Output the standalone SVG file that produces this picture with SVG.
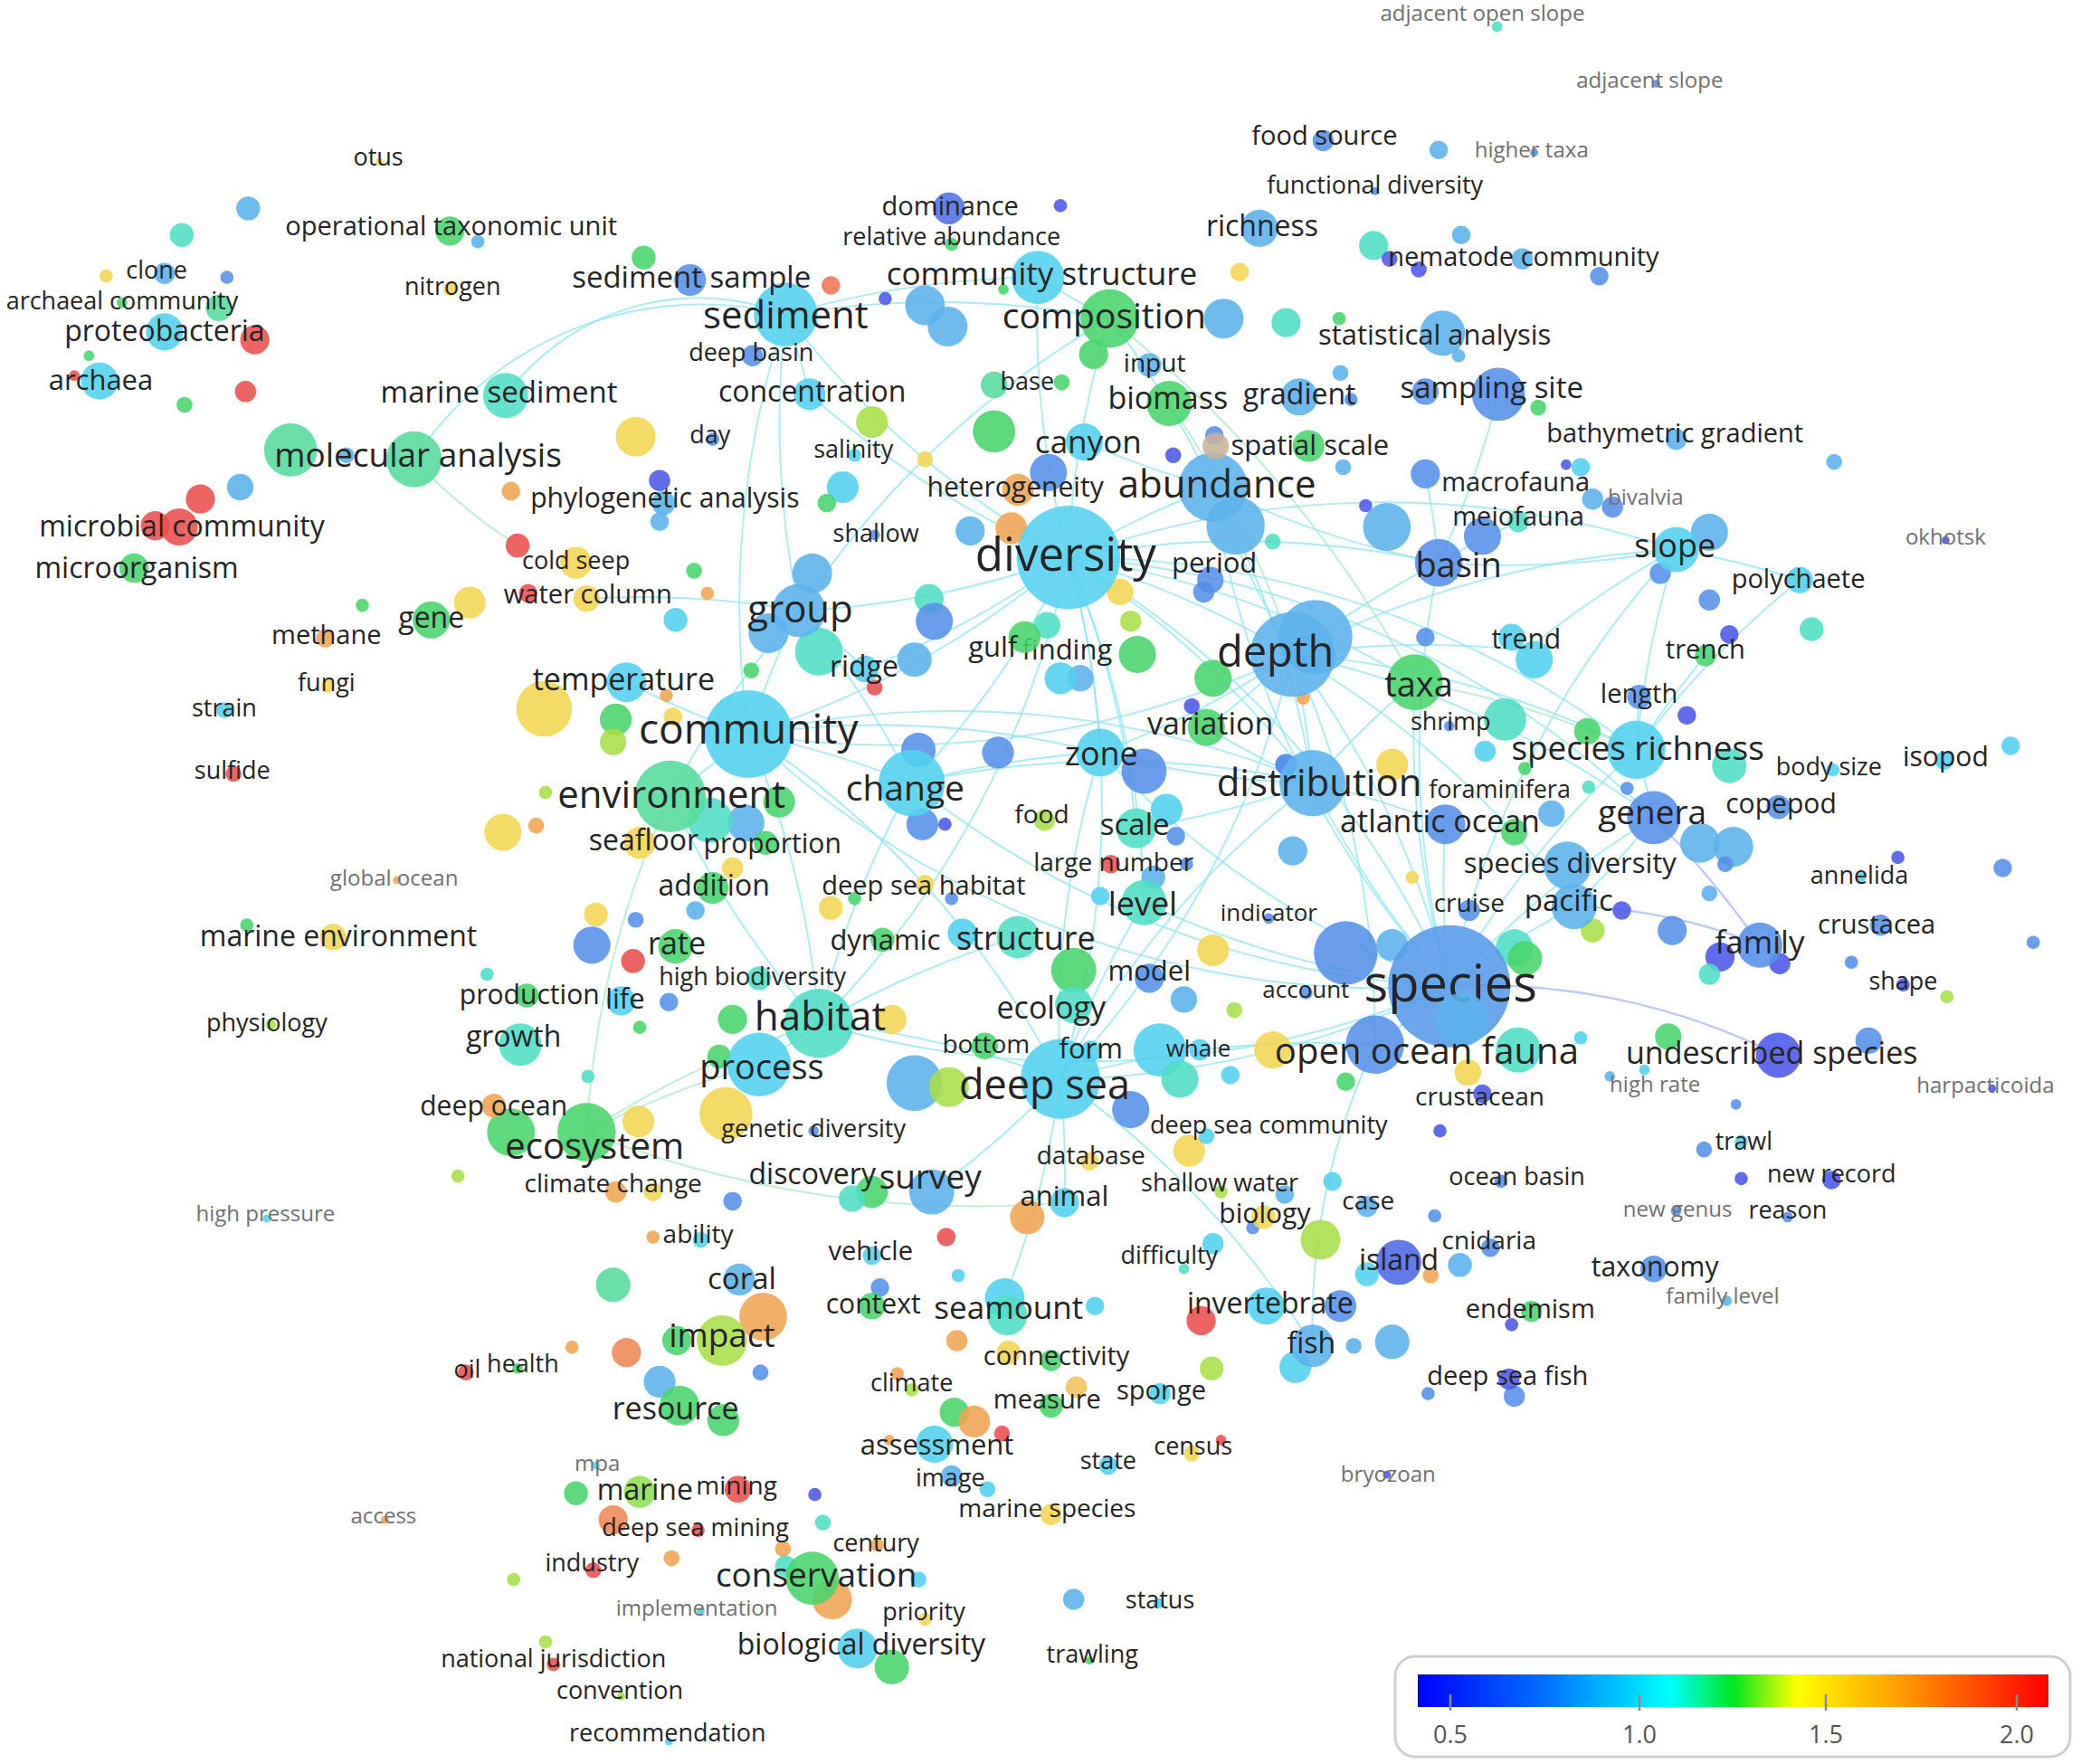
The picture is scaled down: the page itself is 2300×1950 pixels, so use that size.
<svg xmlns="http://www.w3.org/2000/svg" width="2300" height="1950" viewBox="0 0 2300 1950">
<style>
text{font-family:"Open Sans","Noto Sans","DejaVu Sans",sans-serif;fill:#242424;text-anchor:middle;dominant-baseline:middle}
circle{fill-opacity:.88}
.i{fill:#4b57e8}.b{fill:#5590e8}.l{fill:#5cb2ec}.c{fill:#52d2ef}.t{fill:#4fdec4}.m{fill:#55dc9c}.g{fill:#48d46c}.k{fill:#a8de48}.y{fill:#f2d652}.o{fill:#f0a452}.r{fill:#ea4e4e}
#edges path{fill:none;stroke:#8fe4f2;stroke-width:1.3;stroke-opacity:.75}
#edges path.eg{stroke:#a6eac2}
#edges path.ev{stroke:#a9b6f4;stroke-width:1.6}
.g24{font-size:16.4px;fill:#707070}
.s26{font-size:17.7px}.s27{font-size:18.4px}.s28{font-size:19.1px}.s29{font-size:19.8px}.s30{font-size:20.5px}.s31{font-size:21.1px}.s32{font-size:21.8px}.s33{font-size:22.5px}.s34{font-size:23.2px}.s35{font-size:23.9px}.s36{font-size:24.5px}.s37{font-size:25.2px}.s38{font-size:25.9px}.s39{font-size:26.6px}.s40{font-size:27.3px}.s42{font-size:28.6px}.s44{font-size:30px}.s45{font-size:30.7px}.s46{font-size:31.4px}.s47{font-size:32px}.s51{font-size:34.8px}.s56{font-size:38.2px}
.leg{font-size:27px;fill:#555}
</style>
<defs>
<linearGradient id="lg" x1="0" y1="0" x2="1" y2="0">
<stop offset="0" stop-color="#0000ff"/><stop offset="0.2" stop-color="#0070ff"/><stop offset="0.4" stop-color="#00ffff"/><stop offset="0.5" stop-color="#00e620"/><stop offset="0.6" stop-color="#ffff00"/><stop offset="0.75" stop-color="#ffa500"/><stop offset="0.95" stop-color="#ff2000"/><stop offset="1" stop-color="#ff0000"/>
</linearGradient>
</defs>
<rect width="2300" height="1950" fill="#ffffff"/>
<g transform="scale(1.46684 1.46727)">
<g id="edges">
<path d="M805 420A700 700 0 0 1 974 493"/>
<path d="M805 420A700 700 0 0 1 1092 743"/>
<path d="M805 420A700 700 0 0 1 989 590"/>
<path d="M805 420A700 700 0 0 1 564 553"/>
<path d="M805 420A700 700 0 0 1 602 460"/>
<path d="M805 420A700 700 0 0 1 914 367"/>
<path d="M805 420A700 700 0 0 1 1084 424"/>
<path d="M805 420A700 700 0 0 1 1233 565"/>
<path d="M805 420A700 700 0 0 1 687 590"/>
<path d="M805 420A700 700 0 0 1 829 567"/>
<path d="M805 420A700 700 0 0 1 617 771"/>
<path d="M805 420A700 700 0 0 1 799 813"/>
<path d="M805 420A700 700 0 0 1 1066 514"/>
<path d="M805 420A700 700 0 0 1 592 237"/>
<path d="M805 420A700 700 0 0 1 782 209"/>
<path d="M805 420A700 700 0 0 1 836 240"/>
<path d="M805 420A700 700 0 0 1 610 297"/>
<path d="M805 420A700 700 0 0 1 652 504"/>
<path d="M805 420A700 700 0 0 1 1263 414"/>
<path d="M805 420A700 700 0 0 1 1246 616"/>
<path d="M805 420A700 700 0 0 1 862 680"/>
<path d="M805 420A700 700 0 0 1 856 624"/>
<path d="M974 493A700 700 0 0 1 1092 743"/>
<path d="M974 493A700 700 0 0 1 989 590"/>
<path d="M974 493A700 700 0 0 1 1084 424"/>
<path d="M974 493A700 700 0 0 1 1263 414"/>
<path d="M974 493A700 700 0 0 1 1233 565"/>
<path d="M974 493A700 700 0 0 1 1246 616"/>
<path d="M974 493A700 700 0 0 1 829 567"/>
<path d="M974 493A700 700 0 0 1 564 553"/>
<path d="M974 493A700 700 0 0 1 799 813"/>
<path d="M974 493A700 700 0 0 1 1036 787"/>
<path d="M974 493A700 700 0 0 1 1150 490"/>
<path d="M974 493A700 700 0 0 1 914 367"/>
<path d="M974 493A700 700 0 0 1 909 548"/>
<path d="M974 493A700 700 0 0 1 1186 683"/>
<path d="M1092 743A700 700 0 0 1 989 590"/>
<path d="M1092 743A700 700 0 0 1 1246 616"/>
<path d="M1092 743A700 700 0 0 1 1233 565"/>
<path d="M1092 743A700 700 0 0 1 1186 683"/>
<path d="M1092 743A700 700 0 0 1 1036 787"/>
<path d="M1092 743A700 700 0 0 1 799 813"/>
<path d="M1092 743A700 700 0 0 1 1089 621"/>
<path d="M1092 743A700 700 0 0 1 1066 514"/>
<path d="M1092 743A700 700 0 0 1 1263 414"/>
<path d="M1092 743A700 700 0 0 1 1084 424"/>
<path d="M1092 743A700 700 0 0 1 617 771"/>
<path d="M1092 743A700 700 0 0 1 564 553"/>
<path d="M1092 743A700 700 0 0 1 829 567"/>
<path d="M1092 743A700 700 0 0 1 862 680"/>
<path d="M1092 743A700 700 0 0 1 687 590"/>
<path d="M1092 743A700 700 0 0 1 914 367"/>
<path d="M564 553A700 700 0 0 1 602 460"/>
<path d="M564 553A700 700 0 0 1 505 600"/>
<path d="M564 553A700 700 0 0 1 687 590"/>
<path d="M564 553A700 700 0 0 1 617 771"/>
<path d="M564 553A700 700 0 0 1 799 813"/>
<path d="M564 553A700 700 0 0 1 989 590"/>
<path d="M564 553A700 700 0 0 1 829 567"/>
<path d="M564 553A700 700 0 0 1 592 237"/>
<path d="M564 553A700 700 0 0 1 472 514"/>
<path d="M602 460A700 700 0 0 1 592 237"/>
<path d="M602 460A700 700 0 0 1 652 504"/>
<path d="M602 460A700 700 0 0 1 687 590"/>
<path d="M602 460A700 700 0 0 1 836 240"/>
<path d="M617 771A700 700 0 0 1 799 813"/>
<path d="M617 771A700 700 0 0 1 572 802"/>
<path d="M617 771A700 700 0 0 1 505 600"/>
<path d="M617 771A700 700 0 0 1 687 590"/>
<path d="M617 771A700 700 0 0 1 767 706"/>
<path d="M799 813A700 700 0 0 1 989 590"/>
<path d="M799 813A700 700 0 0 1 1036 787"/>
<path d="M799 813A700 700 0 0 1 702 898"/>
<path d="M799 813A700 700 0 0 1 757 978"/>
<path d="M799 813A700 700 0 0 1 862 680"/>
<path d="M799 813A700 700 0 0 1 829 567"/>
<path d="M799 813A700 700 0 0 1 989 1014"/>
<path d="M799 813A700 700 0 0 1 802 906"/>
<path d="M1233 565A700 700 0 0 1 1263 414"/>
<path d="M1233 565A700 700 0 0 1 1285 494"/>
<path d="M1233 565A700 700 0 0 1 1246 616"/>
<path d="M1233 565A700 700 0 0 1 1356 437"/>
<path d="M1233 565A700 700 0 0 1 1235 525"/>
<path d="M1263 414A700 700 0 0 1 1084 424"/>
<path d="M1263 414A700 700 0 0 1 1356 437"/>
<path d="M1150 490A700 700 0 0 1 1263 414"/>
<path d="M1084 424A700 700 0 0 1 914 367"/>
<path d="M1084 424A700 700 0 0 1 1144 393"/>
<path d="M1074 357A700 700 0 0 1 1084 424"/>
<path d="M1129 297A700 700 0 0 1 1084 424"/>
<path d="M914 367A700 700 0 0 1 989 590"/>
<path d="M914 367A700 700 0 0 1 817 333"/>
<path d="M836 240A700 700 0 0 1 914 367"/>
<path d="M836 240A700 700 0 0 1 782 209"/>
<path d="M592 237A700 700 0 0 1 782 209"/>
<path d="M592 237A700 700 0 0 1 836 240"/>
<path d="M592 237A700 700 0 0 1 610 297"/>
<path d="M381 298A180 180 0 0 1 592 237"/>
<path d="M312 346A260 260 0 0 1 592 237"/>
<path d="M989 590A700 700 0 0 1 829 567"/>
<path d="M989 590A700 700 0 0 1 1089 621"/>
<path d="M989 590A700 700 0 0 1 1066 514"/>
<path d="M989 590A700 700 0 0 1 909 548"/>
<path d="M989 590A700 700 0 0 1 856 624"/>
<path d="M687 590A700 700 0 0 1 829 567"/>
<path d="M687 590A700 700 0 0 1 989 590"/>
<path d="M1246 616A700 700 0 0 1 1186 683"/>
<path d="M505 600A700 700 0 0 1 602 460"/>
<path d="M442 451A700 700 0 0 1 602 460"/>
<path d="M1036 787A500 500 0 0 0 989 1014"/>
<path class="ev" d="M1092 743A500 500 0 0 1 1340 795"/>
<path class="ev" d="M1186 683A400 400 0 0 1 1326 712"/>
<path class="ev" d="M1246 616A700 700 0 0 1 1326 712"/>
<path class="eg" d="M836 240A900 900 0 0 1 1066 514"/>
<path class="eg" d="M881 304A700 700 0 0 1 974 493"/>
<path class="eg" d="M312 346A400 400 0 0 0 390 411"/>
<path class="eg" d="M505 600A700 700 0 0 0 442 853"/>
<path class="eg" d="M442 853A800 800 0 0 0 802 906"/>
<path class="eg" d="M442 853A700 700 0 0 1 617 771"/>
<path class="eg" d="M442 853A700 700 0 0 1 572 802"/>
<path class="eg" d="M1066 514A700 700 0 0 1 1233 565"/>
</g>
<g id="unlabeled-nodes">
<circle cx="187" cy="157" r="9" class="l"/><circle cx="137" cy="177" r="9" class="t"/><circle cx="80" cy="208" r="5" class="y"/><circle cx="171" cy="209" r="5" class="b"/><circle cx="67" cy="268" r="4" class="g"/><circle cx="56" cy="283" r="4" class="r"/><circle cx="185" cy="295" r="8" class="r"/><circle cx="139" cy="305" r="6" class="g"/><circle cx="261" cy="343" r="6" class="l"/><circle cx="385" cy="370" r="7" class="o"/><circle cx="181" cy="367" r="10" class="l"/><circle cx="390" cy="411" r="9" class="r"/><circle cx="485" cy="194" r="9" class="g"/><circle cx="626" cy="215" r="7" class="r" style="fill:#ee7455"/><circle cx="667" cy="225" r="5" class="i"/><circle cx="697" cy="230" r="15" class="l"/><circle cx="714" cy="246" r="15" class="l"/><circle cx="756" cy="218" r="4" class="g"/><circle cx="479" cy="329" r="15" class="y"/><circle cx="657" cy="318" r="12" class="k"/><circle cx="697" cy="346" r="6" class="y"/><circle cx="749" cy="325" r="16" class="g"/><circle cx="635" cy="367" r="12" class="c"/><circle cx="623" cy="379" r="7" class="g"/><circle cx="731" cy="400" r="11" class="l"/><circle cx="762" cy="398" r="12" class="o"/><circle cx="523" cy="430" r="6" class="g"/><circle cx="612" cy="432" r="15" class="l"/>
<circle cx="799" cy="155" r="5" class="i"/><circle cx="934" cy="205" r="7" class="y"/><circle cx="1035" cy="185" r="11" class="t"/><circle cx="1101" cy="177" r="7" class="l"/><circle cx="1084" cy="113" r="7" class="l"/><circle cx="922" cy="240" r="15" class="l"/><circle cx="969" cy="243" r="11" class="t"/><circle cx="1009" cy="240" r="5" class="g"/><circle cx="1099" cy="268" r="5" class="l"/><circle cx="800" cy="288" r="6" class="g"/><circle cx="1010" cy="281" r="6" class="l"/><circle cx="1018" cy="301" r="5" class="b"/><circle cx="1159" cy="307" r="6" class="g"/><circle cx="884" cy="343" r="6" class="i"/><circle cx="915" cy="328" r="7" class="b"/><circle cx="1012" cy="352" r="6" class="l"/><circle cx="959" cy="408" r="6" class="t"/><circle cx="1029" cy="381" r="5" class="i"/><circle cx="1045" cy="397" r="18" class="l"/><circle cx="1180" cy="350" r="4" class="i"/><circle cx="1382" cy="348" r="6" class="l"/><circle cx="1251" cy="432" r="8" class="b"/><circle cx="1288" cy="452" r="8" class="b"/><circle cx="1365" cy="474" r="9" class="t"/><circle cx="1303" cy="478" r="7" class="i"/><circle cx="1271" cy="539" r="7" class="i"/><circle cx="1196" cy="551" r="10" class="g"/><circle cx="1303" cy="577" r="13" class="t"/><circle cx="1197" cy="593" r="5" class="t"/><circle cx="1226" cy="594" r="5" class="b"/><circle cx="1515" cy="562" r="7" class="c"/><circle cx="1281" cy="635" r="15" class="l"/><circle cx="1306" cy="638" r="15" class="l"/><circle cx="1300" cy="651" r="6" class="b"/><circle cx="1430" cy="646" r="5" class="i"/><circle cx="1509" cy="654" r="7" class="b"/><circle cx="1288" cy="673" r="6" class="l"/><circle cx="1260" cy="701" r="11" class="b"/><circle cx="1200" cy="701" r="9" class="k"/><circle cx="1222" cy="686" r="7" class="i"/><circle cx="1296" cy="721" r="11" class="i"/><circle cx="1288" cy="734" r="8" class="t"/><circle cx="1341" cy="726" r="8" class="i"/><circle cx="1395" cy="725" r="5" class="b"/><circle cx="1532" cy="710" r="5" class="b"/><circle cx="1467" cy="751" r="5" class="k"/><circle cx="1408" cy="784" r="10" class="b"/><circle cx="1257" cy="781" r="10" class="g"/><circle cx="1191" cy="782" r="5" class="c"/><circle cx="1213" cy="811" r="4" class="l"/><circle cx="1308" cy="832" r="4" class="b"/><circle cx="1284" cy="866" r="6" class="b"/><circle cx="1312" cy="888" r="5" class="i"/>
<circle cx="273" cy="456" r="5" class="g"/><circle cx="354" cy="454" r="12" class="y"/><circle cx="410" cy="534" r="21" class="y"/><circle cx="379" cy="627" r="14" class="y"/><circle cx="186" cy="697" r="5" class="g"/><circle cx="367" cy="734" r="5" class="t"/><circle cx="385" cy="853" r="18" class="g"/><circle cx="345" cy="886" r="5" class="k"/><circle cx="509" cy="467" r="9" class="c"/><circle cx="533" cy="447" r="5" class="o"/><circle cx="398" cy="447" r="7" class="r"/><circle cx="700" cy="451" r="11" class="t"/><circle cx="704" cy="468" r="14" class="b"/><circle cx="689" cy="497" r="13" class="l"/><circle cx="566" cy="505" r="6" class="g"/><circle cx="502" cy="524" r="5" class="o"/><circle cx="464" cy="542" r="12" class="g"/><circle cx="462" cy="559" r="10" class="k"/><circle cx="507" cy="540" r="7" class="y"/><circle cx="659" cy="518" r="6" class="r"/><circle cx="692" cy="565" r="13" class="b"/><circle cx="695" cy="621" r="12" class="b"/><circle cx="712" cy="621" r="5" class="i"/><circle cx="752" cy="567" r="12" class="b"/><circle cx="587" cy="604" r="12" class="g"/><circle cx="562" cy="620" r="14" class="l"/><circle cx="535" cy="618" r="17" class="t"/><circle cx="411" cy="597" r="5" class="k"/><circle cx="404" cy="622" r="6" class="o"/><circle cx="552" cy="654" r="8" class="y"/><circle cx="524" cy="686" r="7" class="l"/><circle cx="449" cy="689" r="9" class="y"/><circle cx="479" cy="693" r="6" class="b"/><circle cx="446" cy="712" r="14" class="b"/><circle cx="477" cy="724" r="9" class="r"/><circle cx="626" cy="684" r="9" class="y"/><circle cx="644" cy="677" r="5" class="g"/><circle cx="717" cy="677" r="5" class="b"/><circle cx="725" cy="703" r="11" class="c"/><circle cx="504" cy="755" r="7" class="b"/><circle cx="482" cy="774" r="5" class="g"/><circle cx="552" cy="768" r="11" class="g"/><circle cx="672" cy="768" r="11" class="y"/><circle cx="542" cy="796" r="9" class="g"/><circle cx="443" cy="811" r="5" class="t"/><circle cx="547" cy="839" r="20" class="y"/><circle cx="689" cy="816" r="21" class="l"/><circle cx="715" cy="819" r="15" class="k"/><circle cx="481" cy="845" r="12" class="y"/>
<circle cx="844" cy="446" r="10" class="y"/><circle cx="907" cy="446" r="8" class="b"/><circle cx="852" cy="468" r="8" class="k"/><circle cx="857" cy="493" r="14" class="g"/><circle cx="789" cy="471" r="10" class="t"/><circle cx="814" cy="511" r="10" class="l"/><circle cx="914" cy="511" r="14" class="g"/><circle cx="982" cy="526" r="5" class="o"/><circle cx="898" cy="532" r="6" class="i"/><circle cx="1074" cy="480" r="7" class="b"/><circle cx="1134" cy="542" r="16" class="t"/><circle cx="1119" cy="566" r="8" class="c"/><circle cx="969" cy="576" r="8" class="b"/><circle cx="1049" cy="576" r="12" class="y"/><circle cx="879" cy="610" r="12" class="c"/><circle cx="886" cy="630" r="7" class="b"/><circle cx="1141" cy="627" r="10" class="g"/><circle cx="1169" cy="613" r="10" class="l"/><circle cx="894" cy="651" r="5" class="b"/><circle cx="974" cy="641" r="11" class="l"/><circle cx="829" cy="675" r="7" class="c"/><circle cx="869" cy="661" r="9" class="l"/><circle cx="1064" cy="661" r="5" class="y"/><circle cx="914" cy="716" r="12" class="y"/><circle cx="1014" cy="718" r="24" class="b"/><circle cx="1049" cy="712" r="12" class="l"/><circle cx="1141" cy="714" r="14" class="t"/><circle cx="1149" cy="722" r="13" class="g"/><circle cx="809" cy="731" r="17" class="g"/><circle cx="892" cy="753" r="10" class="l"/><circle cx="930" cy="761" r="6" class="k"/><circle cx="874" cy="791" r="20" class="c"/><circle cx="889" cy="813" r="14" class="t"/><circle cx="959" cy="791" r="14" class="y"/><circle cx="1106" cy="808" r="10" class="y"/><circle cx="927" cy="810" r="7" class="c"/><circle cx="1014" cy="815" r="7" class="g"/><circle cx="1085" cy="852" r="5" class="i"/><circle cx="852" cy="836" r="14" class="b"/><circle cx="896" cy="867" r="12" class="y"/><circle cx="790" cy="356" r="14" class="b"/>
<circle cx="552" cy="905" r="7" class="b"/><circle cx="492" cy="898" r="7" class="y"/><circle cx="657" cy="898" r="12" class="g"/><circle cx="492" cy="932" r="5" class="o"/><circle cx="713" cy="932" r="7" class="r"/><circle cx="774" cy="917" r="13" class="o"/><circle cx="462" cy="968" r="13" class="m"/><circle cx="722" cy="961" r="5" class="c"/><circle cx="663" cy="970" r="7" class="b"/><circle cx="575" cy="992" r="18" class="o"/><circle cx="510" cy="1010" r="11" class="g"/><circle cx="431" cy="1015" r="5" class="o"/><circle cx="472" cy="1019" r="11" class="o" style="fill:#ee8855"/><circle cx="573" cy="1034" r="6" class="b"/><circle cx="497" cy="1041" r="12" class="l"/><circle cx="545" cy="1070" r="12" class="g"/><circle cx="721" cy="1010" r="8" class="o"/><circle cx="760" cy="1019" r="9" class="y"/><circle cx="676" cy="1035" r="5" class="o"/><circle cx="719" cy="1064" r="11" class="g"/><circle cx="734" cy="1071" r="12" class="o"/><circle cx="755" cy="1080" r="6" class="r"/><circle cx="670" cy="1085" r="4" class="o"/><circle cx="744" cy="1122" r="6" class="c"/><circle cx="434" cy="1125" r="9" class="g"/><circle cx="614" cy="1126" r="5" class="i"/><circle cx="462" cy="1145" r="11" class="o" style="fill:#ee8855"/><circle cx="620" cy="1147" r="6" class="t"/><circle cx="590" cy="1167" r="6" class="o"/><circle cx="506" cy="1174" r="6" class="o"/><circle cx="627" cy="1205" r="15" class="o"/><circle cx="692" cy="1190" r="6" class="c"/><circle cx="592" cy="1180" r="8" class="t"/><circle cx="672" cy="1256" r="13" class="g"/><circle cx="411" cy="1237" r="5" class="k"/><circle cx="387" cy="1190" r="5" class="k"/>
<circle cx="1004" cy="890" r="7" class="c"/><circle cx="968" cy="900" r="7" class="l"/><circle cx="944" cy="925" r="5" class="b"/><circle cx="995" cy="934" r="15" class="k"/><circle cx="914" cy="937" r="8" class="c"/><circle cx="1081" cy="916" r="5" class="b"/><circle cx="1030" cy="960" r="9" class="c"/><circle cx="1078" cy="961" r="6" class="o"/><circle cx="1100" cy="953" r="9" class="l"/><circle cx="825" cy="984" r="7" class="c"/><circle cx="905" cy="995" r="11" class="r"/><circle cx="1010" cy="984" r="12" class="b"/><circle cx="976" cy="1030" r="12" class="c"/><circle cx="1020" cy="1014" r="6" class="l"/><circle cx="1049" cy="1011" r="13" class="l"/><circle cx="1139" cy="998" r="5" class="i"/><circle cx="913" cy="1031" r="9" class="k"/><circle cx="811" cy="1045" r="8" class="y" style="fill:#f0c060"/><circle cx="1141" cy="1052" r="8" class="b"/><circle cx="1076" cy="1050" r="5" class="b"/><circle cx="920" cy="1085" r="4" class="r"/><circle cx="809" cy="1205" r="8" class="l"/>
</g>
<g id="nodes">
<g id="n-species"><circle cx="1092" cy="743" r="46" class="b" style="fill:#579ae9"/><text x="1093" y="744" class="s56">species</text></g>
<g id="n-diversity"><circle cx="805" cy="420" r="39" class="c" style="fill:#58d2f0"/><text x="803" y="421" class="s51">diversity</text></g>
<g id="n-community"><circle cx="564" cy="553" r="33" class="c"/><text x="564" y="552" class="s46">community</text></g>
<g id="n-depth"><circle cx="991" cy="480" r="28" class="l"/><circle cx="974" cy="493" r="32" class="l"/><text x="961" y="494" class="s47">depth</text></g>
<g id="n-deep-sea"><circle cx="799" cy="813" r="30" class="c"/><text x="787" y="820" class="s45">deep sea</text></g>
<g id="n-environment"><circle cx="505" cy="600" r="27" class="m"/><text x="506" y="601" class="s42">environment</text></g>
<g id="n-abundance"><circle cx="931" cy="396" r="22" class="l"/><circle cx="914" cy="367" r="26" class="l"/><text x="917" y="367" class="s42">abundance</text></g>
<g id="n-habitat"><circle cx="617" cy="771" r="26" class="t"/><text x="618" y="768" class="s44">habitat</text></g>
<g id="n-change"><circle cx="687" cy="590" r="25" class="c"/><text x="682" y="596" class="s39">change</text></g>
<g id="n-distribution"><circle cx="969" cy="576" r="8" class="b"/><circle cx="989" cy="590" r="25" class="l"/><text x="994" y="592" class="s42">distribution</text></g>
<g id="n-process"><circle cx="572" cy="802" r="24" class="c"/><text x="574" y="806" class="s38">process</text></g>
<g id="n-sediment"><circle cx="592" cy="237" r="24" class="c"/><text x="592" y="240" class="s42">sediment</text></g>
<g id="n-open-ocean-fauna"><circle cx="1036" cy="787" r="22" class="b"/><circle cx="1102" cy="768" r="20" class="l"/><circle cx="1144" cy="791" r="17" class="t"/><text x="1075" y="794" class="s40">open ocean fauna</text></g>
<g id="n-composition"><circle cx="824" cy="267" r="11" class="g"/><circle cx="836" cy="240" r="22" class="g"/><text x="832" y="240" class="s39">composition</text></g>
<g id="n-species-richness"><circle cx="1233" cy="565" r="22" class="c"/><text x="1234" y="566" class="s37">species richness</text></g>
<g id="n-ecosystem"><circle cx="442" cy="853" r="22" class="g"/><text x="448" y="866" class="s40">ecosystem</text></g>
<g id="n-molecular-analysis"><circle cx="219" cy="339" r="20" class="m"/><circle cx="312" cy="346" r="21" class="m"/><text x="315" y="345" class="s37">molecular analysis</text></g>
<g id="n-taxa"><circle cx="1066" cy="514" r="21" class="g"/><text x="1069" y="518" class="s38">taxa</text></g>
<g id="n-group"><circle cx="579" cy="477" r="15" class="l"/><circle cx="617" cy="491" r="18" class="t"/><circle cx="602" cy="460" r="20" class="l"/><text x="603" y="461" class="s42">group</text></g>
<g id="n-community-structure"><circle cx="782" cy="209" r="20" class="c"/><text x="785" y="208" class="s35">community structure</text></g>
<g id="n-sampling-site"><circle cx="1074" cy="295" r="10" class="b"/><circle cx="1129" cy="297" r="20" class="b"/><text x="1124" y="294" class="s33">sampling site</text></g>
<g id="n-genera"><circle cx="1246" cy="616" r="20" class="b"/><text x="1245" y="614" class="s37">genera</text></g>
<g id="n-conservation"><circle cx="612" cy="1189" r="20" class="g"/><text x="615" y="1189" class="s37">conservation</text></g>
<g id="n-impact"><circle cx="544" cy="1010" r="19" class="k"/><text x="544" y="1008" class="s37">impact</text></g>
<g id="n-zone"><circle cx="862" cy="581" r="17" class="b"/><circle cx="829" cy="567" r="18" class="c"/><text x="830" y="570" class="s36">zone</text></g>
<g id="n-basin"><circle cx="1117" cy="404" r="14" class="b"/><circle cx="1084" cy="424" r="18" class="b"/><text x="1099" y="428" class="s38">basin</text></g>
<g id="n-species-diversity"><circle cx="1181" cy="652" r="18" class="l"/><text x="1183" y="652" class="s31">species diversity</text></g>
<g id="n-slope"><circle cx="1288" cy="401" r="14" class="l"/><circle cx="1263" cy="414" r="17" class="c"/><text x="1262" y="413" class="s36">slope</text></g>
<g id="n-marine-sediment"><circle cx="381" cy="298" r="17" class="t"/><text x="376" y="297" class="s33">marine sediment</text></g>
<g id="n-statistical-analysis"><circle cx="1087" cy="251" r="17" class="l"/><text x="1081" y="254" class="s31">statistical analysis</text></g>
<g id="n-biomass"><circle cx="881" cy="304" r="17" class="g"/><text x="880" y="302" class="s34">biomass</text></g>
<g id="n-level"><circle cx="862" cy="680" r="17" class="t"/><text x="861" y="683" class="s36">level</text></g>
<g id="n-pacific"><circle cx="1186" cy="683" r="17" class="l"/><text x="1182" y="680" class="s33">pacific</text></g>
<g id="n-family"><circle cx="1326" cy="712" r="17" class="b"/><text x="1326" y="712" class="s35">family</text></g>
<g id="n-undescribed-species"><circle cx="1340" cy="795" r="17" class="i"/><text x="1335" y="795" class="s34">undescribed species</text></g>
<g id="n-survey"><circle cx="702" cy="898" r="17" class="l"/><text x="701" y="889" class="s37">survey</text></g>
<g id="n-island"><circle cx="1054" cy="951" r="17" class="b" style="fill:#5068e6"/><text x="1054" y="951" class="s32">island</text></g>
<g id="n-structure"><circle cx="767" cy="706" r="16" class="t"/><text x="773" y="709" class="s36">structure</text></g>
<g id="n-growth"><circle cx="392" cy="787" r="16" class="t"/><text x="387" y="783" class="s32">growth</text></g>
<g id="n-fish"><circle cx="989" cy="1014" r="16" class="l"/><text x="988" y="1014" class="s32">fish</text></g>
<g id="n-scale"><circle cx="856" cy="624" r="15" class="t"/><text x="855" y="623" class="s33">scale</text></g>
<g id="n-atlantic-ocean"><circle cx="1089" cy="621" r="15" class="b"/><text x="1085" y="621" class="s34">atlantic ocean</text></g>
<g id="n-temperature"><circle cx="472" cy="514" r="15" class="c"/><text x="470" y="514" class="s34">temperature</text></g>
<g id="n-seamount"><circle cx="757" cy="978" r="15" class="c"/><circle cx="759" cy="991" r="15" class="t"/><text x="760" y="987" class="s35">seamount</text></g>
<g id="n-resource"><circle cx="512" cy="1059" r="15" class="g"/><text x="509" y="1063" class="s34">resource</text></g>
<g id="n-biological-diversity"><circle cx="646" cy="1242" r="15" class="c"/><text x="649" y="1241" class="s32">biological diversity</text></g>
<g id="n-richness"><circle cx="949" cy="172" r="14" class="l"/><text x="951" y="172" class="s32">richness</text></g>
<g id="n-canyon"><circle cx="817" cy="333" r="14" class="c"/><text x="820" y="335" class="s35">canyon</text></g>
<g id="n-gradient"><circle cx="979" cy="299" r="14" class="l"/><text x="979" y="299" class="s32">gradient</text></g>
<g id="n-gene"><circle cx="325" cy="467" r="14" class="g"/><text x="325" y="467" class="s32">gene</text></g>
<g id="n-variation"><circle cx="909" cy="548" r="14" class="g"/><text x="912" y="547" class="s34">variation</text></g>
<g id="n-proteobacteria"><circle cx="192" cy="256" r="11" class="r"/><circle cx="124" cy="250" r="14" class="c"/><text x="124" y="251" class="s32">proteobacteria</text></g>
<g id="n-archaea"><circle cx="75" cy="287" r="14" class="c"/><text x="76" y="288" class="s31">archaea</text></g>
<g id="n-ecology"><circle cx="809" cy="757" r="14" class="t"/><text x="792" y="761" class="s34">ecology</text></g>
<g id="n-microbial-community"><circle cx="151" cy="376" r="11" class="r"/><circle cx="117" cy="396" r="11" class="r"/><circle cx="135" cy="397" r="14" class="r"/><text x="137" y="398" class="s32">microbial community</text></g>
<g id="n-invertebrate"><circle cx="954" cy="984" r="14" class="c"/><text x="957" y="984" class="s32">invertebrate</text></g>
<g id="n-assessment"><circle cx="704" cy="1088" r="14" class="c"/><text x="706" y="1090" class="s31">assessment</text></g>
<g id="n-trend"><circle cx="1139" cy="480" r="10" class="c"/><circle cx="1156" cy="497" r="14" class="c"/><text x="1150" y="483" class="s30">trend</text></g>
<g id="n-rate"><circle cx="509" cy="713" r="13" class="g"/><text x="510" y="713" class="s34">rate</text></g>
<g id="n-dominance"><circle cx="715" cy="157" r="12" class="b" style="fill:#5070e6"/><text x="716" y="157" class="s29">dominance</text></g>
<g id="n-sediment-sample"><circle cx="520" cy="211" r="12" class="b"/><text x="521" y="211" class="s33">sediment sample</text></g>
<g id="n-concentration"><circle cx="610" cy="297" r="12" class="c"/><text x="612" y="297" class="s32">concentration</text></g>
<g id="n-spatial-scale"><circle cx="916" cy="336" r="10" class="o" style="fill:#c9b49a"/><circle cx="986" cy="336" r="12" class="g"/><text x="987" y="337" class="s31">spatial scale</text></g>
<g id="n-heterogeneity"><circle cx="767" cy="369" r="12" class="o"/><text x="765" y="369" class="s30">heterogeneity</text></g>
<g id="n-cold-seep"><circle cx="434" cy="424" r="12" class="y"/><text x="434" y="424" class="s27">cold seep</text></g>
<g id="n-finding"><circle cx="799" cy="511" r="12" class="c"/><text x="804" y="491" class="s31">finding</text></g>
<g id="n-gulf"><circle cx="772" cy="480" r="12" class="g"/><text x="748" y="489" class="s31">gulf</text></g>
<g id="n-seafloor"><circle cx="482" cy="635" r="12" class="y"/><text x="485" y="635" class="s32">seafloor</text></g>
<g id="n-addition"><circle cx="537" cy="669" r="12" class="g"/><text x="538" y="669" class="s32">addition</text></g>
<g id="n-coral"><circle cx="557" cy="964" r="12" class="l"/><text x="559" y="965" class="s33">coral</text></g>
<g id="n-marine"><circle cx="482" cy="1124" r="12" class="k" style="fill:#8ddf50"/><text x="486" y="1124" class="s32">marine</text></g>
<g id="n-microorganism"><circle cx="101" cy="428" r="11" class="g"/><text x="103" y="430" class="s32">microorganism</text></g>
<g id="n-operational-taxonomic-unit"><circle cx="339" cy="174" r="11" class="g"/><circle cx="360" cy="182" r="5" class="l"/><text x="340" y="172" class="s29">operational taxonomic unit</text></g>
<g id="n-macrofauna"><circle cx="1074" cy="357" r="11" class="b"/><circle cx="1191" cy="352" r="7" class="c"/><text x="1142" y="365" class="s29">macrofauna</text></g>
<g id="n-life"><circle cx="468" cy="754" r="11" class="c"/><text x="471" y="754" class="s31">life</text></g>
<g id="n-model"><circle cx="866" cy="737" r="11" class="b"/><text x="866" y="733" class="s31">model</text></g>
<g id="n-animal"><circle cx="802" cy="906" r="11" class="c"/><text x="802" y="903" class="s31">animal</text></g>
<g id="n-period"><circle cx="912" cy="437" r="10" class="b"/><text x="915" y="426" class="s31">period</text></g>
<g id="n-ridge"><circle cx="652" cy="504" r="10" class="c"/><text x="651" y="504" class="s32">ridge</text></g>
<g id="n-water-column"><circle cx="442" cy="451" r="10" class="y"/><text x="443" y="449" class="s29">water column</text></g>
<g id="n-base"><circle cx="749" cy="290" r="10" class="m"/><text x="774" y="289" class="s27">base</text></g>
<g id="n-polychaete"><circle cx="1356" cy="437" r="10" class="c"/><text x="1355" y="438" class="s29">polychaete</text></g>
<g id="n-marine-environment"><circle cx="251" cy="706" r="10" class="y"/><text x="255" y="707" class="s32">marine environment</text></g>
<g id="n-bottom"><circle cx="742" cy="788" r="10" class="g"/><text x="743" y="788" class="s28">bottom</text></g>
<g id="n-discovery"><circle cx="642" cy="903" r="10" class="t"/><text x="612" y="886" class="s32">discovery</text></g>
<g id="n-context"><circle cx="657" cy="984" r="10" class="g"/><text x="658" y="984" class="s30">context</text></g>
<g id="n-taxonomy"><circle cx="1246" cy="956" r="10" class="b"/><text x="1247" y="956" class="s30">taxonomy</text></g>
<g id="n-mining"><circle cx="556" cy="1122" r="10" class="r"/><text x="555" y="1121" class="s28">mining</text></g>
<g id="n-archaeal-community"><circle cx="165" cy="232" r="10" class="m"/><circle cx="92" cy="228" r="4" class="g"/><text x="92" y="228" class="s27">archaeal community</text></g>
<g id="n-input"><circle cx="866" cy="275" r="9" class="l"/><text x="870" y="275" class="s28">input</text></g>
<g id="n-length"><circle cx="1235" cy="525" r="9" class="b"/><text x="1235" y="524" class="s29">length</text></g>
<g id="n-copepod"><circle cx="1340" cy="608" r="9" class="b"/><text x="1342" y="607" class="s30">copepod</text></g>
<g id="n-proportion"><circle cx="577" cy="635" r="9" class="g"/><text x="582" y="637" class="s30">proportion</text></g>
<g id="n-dynamic"><circle cx="665" cy="708" r="9" class="g"/><text x="667" y="710" class="s31">dynamic</text></g>
<g id="n-high-biodiversity"><circle cx="572" cy="737" r="9" class="t"/><text x="567" y="737" class="s27">high biodiversity</text></g>
<g id="n-production"><circle cx="397" cy="750" r="9" class="g"/><text x="399" y="751" class="s30">production</text></g>
<g id="n-deep-ocean"><circle cx="372" cy="833" r="9" class="o"/><text x="372" y="835" class="s30">deep ocean</text></g>
<g id="n-biology"><circle cx="952" cy="917" r="9" class="y"/><text x="953" y="916" class="s30">biology</text></g>
<g id="n-measure"><circle cx="792" cy="1059" r="9" class="g"/><text x="789" y="1056" class="s29">measure</text></g>
<g id="n-food-source"><circle cx="997" cy="106" r="8" class="b"/><text x="998" y="104" class="s29">food source</text></g>
<g id="n-nematode-community"><circle cx="1047" cy="195" r="6" class="i"/><circle cx="1069" cy="203" r="6" class="i"/><circle cx="1147" cy="195" r="8" class="l"/><circle cx="1205" cy="208" r="7" class="b"/><text x="1148" y="195" class="s29">nematode community</text></g>
<g id="n-clone"><circle cx="124" cy="206" r="8" class="l"/><text x="118" y="205" class="s27">clone</text></g>
<g id="n-deep-basin"><circle cx="567" cy="268" r="8" class="b"/><text x="566" y="267" class="s27">deep basin</text></g>
<g id="n-bathymetric-gradient"><circle cx="1263" cy="331" r="8" class="l"/><text x="1262" y="328" class="s29">bathymetric gradient</text></g>
<g id="n-bivalvia"><circle cx="1200" cy="376" r="8" class="l"/><circle cx="1215" cy="382" r="8" class="b"/><text x="1240" y="376" class="g24">bivalvia</text></g>
<g id="n-meiofauna"><circle cx="1144" cy="393" r="8" class="t"/><text x="1144" y="391" class="s29">meiofauna</text></g>
<g id="n-phylogenetic-analysis"><circle cx="497" cy="362" r="8" class="i"/><circle cx="500" cy="379" r="9" class="l"/><circle cx="497" cy="393" r="7" class="l"/><text x="501" y="377" class="s30">phylogenetic analysis</text></g>
<g id="n-trench"><circle cx="1285" cy="494" r="8" class="g"/><text x="1285" y="491" class="s29">trench</text></g>
<g id="n-food"><circle cx="787" cy="618" r="8" class="k"/><text x="785" y="615" class="s28">food</text></g>
<g id="n-cruise"><circle cx="1107" cy="686" r="8" class="b"/><text x="1107" y="682" class="s28">cruise</text></g>
<g id="n-crustacea"><circle cx="1417" cy="697" r="8" class="b"/><text x="1414" y="698" class="s29">crustacea</text></g>
<g id="n-form"><circle cx="822" cy="792" r="8" class="c"/><text x="822" y="792" class="s31">form</text></g>
<g id="n-whale"><circle cx="904" cy="791" r="8" class="c"/><text x="903" y="791" class="s26">whale</text></g>
<g id="n-case"><circle cx="1030" cy="909" r="8" class="l"/><text x="1031" y="906" class="s28">case</text></g>
<g id="n-endemism"><circle cx="1154" cy="988" r="8" class="g"/><text x="1153" y="988" class="s29">endemism</text></g>
<g id="n-connectivity"><circle cx="792" cy="1025" r="8" class="g"/><text x="796" y="1023" class="s29">connectivity</text></g>
<g id="n-deep-sea-fish"><circle cx="1137" cy="1039" r="8" class="i"/><text x="1136" y="1038" class="s29">deep sea fish</text></g>
<g id="n-sponge"><circle cx="874" cy="1050" r="8" class="c"/><text x="875" y="1049" class="s29">sponge</text></g>
<g id="n-image"><circle cx="717" cy="1112" r="8" class="l"/><text x="716" y="1115" class="s27">image</text></g>
<g id="n-marine-species"><circle cx="792" cy="1141" r="8" class="y"/><text x="789" y="1138" class="s28">marine species</text></g>
<g id="n-climate-change"><circle cx="464" cy="898" r="8" class="o"/><text x="462" y="893" class="s28">climate change</text></g>
<g id="n-methane"><circle cx="245" cy="481" r="7" class="o"/><text x="246" y="480" class="s29">methane</text></g>
<g id="n-large-number"><circle cx="837" cy="651" r="7" class="r"/><text x="839" y="651" class="s28">large number</text></g>
<g id="n-deep-sea-habitat"><circle cx="697" cy="666" r="7" class="y"/><text x="696" y="669" class="s29">deep sea habitat</text></g>
<g id="n-isopod"><circle cx="1465" cy="573" r="7" class="c"/><text x="1466" y="572" class="s30">isopod</text></g>
<g id="n-crustacean"><circle cx="1117" cy="824" r="7" class="i"/><text x="1115" y="828" class="s28">crustacean</text></g>
<g id="n-database"><circle cx="821" cy="875" r="7" class="y"/><text x="822" y="872" class="s28">database</text></g>
<g id="n-new-record"><circle cx="1380" cy="889" r="7" class="i"/><text x="1380" y="886" class="s27">new record</text></g>
<g id="n-cnidaria"><circle cx="1123" cy="940" r="7" class="b"/><text x="1122" y="936" class="s28">cnidaria</text></g>
<g id="n-vehicle"><circle cx="657" cy="946" r="7" class="c"/><text x="656" y="944" class="s29">vehicle</text></g>
<g id="n-state"><circle cx="835" cy="1104" r="7" class="c"/><text x="835" y="1102" class="s27">state</text></g>
<g id="n-strain"><circle cx="169" cy="535" r="6" class="c"/><text x="169" y="535" class="s27">strain</text></g>
<g id="n-sulfide"><circle cx="176" cy="583" r="6" class="r"/><text x="175" y="582" class="s27">sulfide</text></g>
<g id="n-deep-sea-community"><circle cx="909" cy="856" r="6" class="c"/><text x="956" y="849" class="s27">deep sea community</text></g>
<g id="n-ability"><circle cx="528" cy="934" r="6" class="c"/><text x="526" y="931" class="s28">ability</text></g>
<g id="n-oil"><circle cx="351" cy="1034" r="6" class="r"/><text x="352" y="1033" class="s27">oil</text></g>
<g id="n-census"><circle cx="898" cy="1095" r="6" class="y"/><text x="899" y="1091" class="s27">census</text></g>
<g id="n-industry"><circle cx="447" cy="1183" r="6" class="r"/><text x="446" y="1179" class="s27">industry</text></g>
<g id="n-relative-abundance"><circle cx="717" cy="184" r="5" class="g"/><text x="717" y="180" class="s27">relative abundance</text></g>
<g id="n-nitrogen"><circle cx="339" cy="218" r="5" class="y"/><text x="341" y="217" class="s27">nitrogen</text></g>
<g id="n-day"><circle cx="537" cy="331" r="5" class="b"/><text x="535" y="329" class="s27">day</text></g>
<g id="n-salinity"><circle cx="644" cy="343" r="5" class="c"/><text x="643" y="340" class="s27">salinity</text></g>
<g id="n-fungi"><circle cx="247" cy="517" r="5" class="y"/><text x="246" y="516" class="s27">fungi</text></g>
<g id="n-foraminifera"><circle cx="1149" cy="579" r="5" class="g"/><text x="1130" y="596" class="s27">foraminifera</text></g>
<g id="n-body-size"><circle cx="1381" cy="580" r="5" class="c"/><text x="1378" y="579" class="s27">body size</text></g>
<g id="n-account"><circle cx="984" cy="748" r="5" class="b"/><text x="984" y="747" class="s26">account</text></g>
<g id="n-shape"><circle cx="1434" cy="742" r="5" class="i"/><text x="1434" y="741" class="s27">shape</text></g>
<g id="n-trawl"><circle cx="1312" cy="860" r="5" class="c"/><text x="1314" y="861" class="s27">trawl</text></g>
<g id="n-ocean-basin"><circle cx="1131" cy="890" r="5" class="b"/><text x="1143" y="888" class="s27">ocean basin</text></g>
<g id="n-shallow-water"><circle cx="920" cy="898" r="5" class="k"/><text x="919" y="893" class="s27">shallow water</text></g>
<g id="n-climate"><circle cx="687" cy="1047" r="5" class="k"/><text x="687" y="1043" class="s27">climate</text></g>
<g id="n-deep-sea-mining"><circle cx="526" cy="1153" r="5" class="r"/><text x="524" y="1152" class="s27">deep sea mining</text></g>
<g id="n-century"><circle cx="661" cy="1164" r="5" class="o"/><text x="660" y="1164" class="s27">century</text></g>
<g id="n-priority"><circle cx="697" cy="1220" r="5" class="y"/><text x="696" y="1216" class="s27">priority</text></g>
<g id="n-national-jurisdiction"><circle cx="417" cy="1254" r="5" class="r"/><text x="417" y="1251" class="s27">national jurisdiction</text></g>
<g id="n-shallow"><circle cx="659" cy="403" r="4" class="b"/><text x="660" y="403" class="s27">shallow</text></g>
<g id="n-shrimp"><circle cx="1092" cy="547" r="4" class="b"/><text x="1093" y="545" class="s27">shrimp</text></g>
<g id="n-annelida"><circle cx="1402" cy="661" r="4" class="c"/><text x="1401" y="661" class="s27">annelida</text></g>
<g id="n-indicator"><circle cx="956" cy="692" r="4" class="b"/><text x="956" y="689" class="s26">indicator</text></g>
<g id="n-physiology"><circle cx="204" cy="772" r="4" class="k"/><text x="201" y="772" class="s27">physiology</text></g>
<g id="n-genetic-diversity"><circle cx="613" cy="852" r="4" class="b"/><text x="613" y="852" class="s27">genetic diversity</text></g>
<g id="n-reason"><circle cx="1347" cy="917" r="4" class="b"/><text x="1347" y="913" class="s27">reason</text></g>
<g id="n-difficulty"><circle cx="892" cy="956" r="4" class="t"/><text x="881" y="947" class="s27">difficulty</text></g>
<g id="n-health"><circle cx="390" cy="1031" r="4" class="g"/><text x="394" y="1029" class="s27">health</text></g>
<g id="n-status"><circle cx="873" cy="1208" r="4" class="c"/><text x="874" y="1207" class="s27">status</text></g>
<g id="n-functional-diversity"><circle cx="1036" cy="144" r="3" class="b"/><text x="1036" y="141" class="s27">functional diversity</text></g>
<g id="n-otus"><circle cx="286" cy="122" r="3" class="y"/><text x="285" y="120" class="s27">otus</text></g>
<g id="n-trawling"><circle cx="821" cy="1251" r="3" class="g"/><text x="823" y="1248" class="s27">trawling</text></g>
<g id="n-convention"><circle cx="468" cy="1278" r="3" class="k"/><text x="467" y="1275" class="s27">convention</text></g>
<g id="n-recommendation"><circle cx="504" cy="1312" r="3" class="c"/><text x="503" y="1307" class="s27">recommendation</text></g>
<g id="n-adjacent-open-slope"><circle cx="1128" cy="20" r="4" class="t"/><text x="1117" y="11" class="g24">adjacent open slope</text></g>
<g id="n-adjacent-slope"><circle cx="1248" cy="63" r="3" class="b"/><text x="1243" y="62" class="g24">adjacent slope</text></g>
<g id="n-higher-taxa"><circle cx="1156" cy="115" r="3" class="b"/><text x="1154" y="114" class="g24">higher taxa</text></g>
<g id="n-okhotsk"><circle cx="1466" cy="407" r="3" class="i"/><text x="1466" y="406" class="g24">okhotsk</text></g>
<g id="n-global-ocean"><circle cx="299" cy="663" r="3" class="o"/><text x="297" y="663" class="g24">global ocean</text></g>
<g id="n-high-rate"><circle cx="1239" cy="806" r="4" class="c"/><text x="1247" y="818" class="g24">high rate</text></g>
<g id="n-harpacticoida"><circle cx="1501" cy="820" r="3" class="i"/><text x="1496" y="819" class="g24">harpacticoida</text></g>
<g id="n-high-pressure"><circle cx="201" cy="918" r="3" class="c"/><text x="200" y="916" class="g24">high pressure</text></g>
<g id="n-new-genus"><circle cx="1263" cy="912" r="4" class="b"/><text x="1264" y="912" class="g24">new genus</text></g>
<g id="n-family-level"><circle cx="1301" cy="980" r="4" class="l"/><text x="1298" y="978" class="g24">family level</text></g>
<g id="n-mpa"><circle cx="449" cy="1104" r="3" class="c"/><text x="450" y="1104" class="g24">mpa</text></g>
<g id="n-bryozoan"><circle cx="1045" cy="1111" r="3" class="i"/><text x="1046" y="1112" class="g24">bryozoan</text></g>
<g id="n-access"><circle cx="290" cy="1145" r="3" class="o"/><text x="289" y="1143" class="g24">access</text></g>
<g id="n-implementation"><circle cx="528" cy="1214" r="3" class="c"/><text x="525" y="1213" class="g24">implementation</text></g>
</g>
</g>
<g id="legend">
<rect x="1542" y="1831" width="746" height="111" rx="22" fill="#ffffff" stroke="#cfcfcf" stroke-width="3"/>
<rect x="1567" y="1851" width="697" height="36" fill="url(#lg)"/>
<g stroke="#8a8a8a" stroke-width="2.5">
<line x1="1603" y1="1873" x2="1603" y2="1891"/><line x1="1812" y1="1873" x2="1812" y2="1891"/><line x1="2018" y1="1873" x2="2018" y2="1891"/><line x1="2229" y1="1873" x2="2229" y2="1891"/>
</g>
<text x="1603" y="1920" class="leg">0.5</text><text x="1812" y="1920" class="leg">1.0</text><text x="2018" y="1920" class="leg">1.5</text><text x="2229" y="1920" class="leg">2.0</text>
</g>
</svg>
